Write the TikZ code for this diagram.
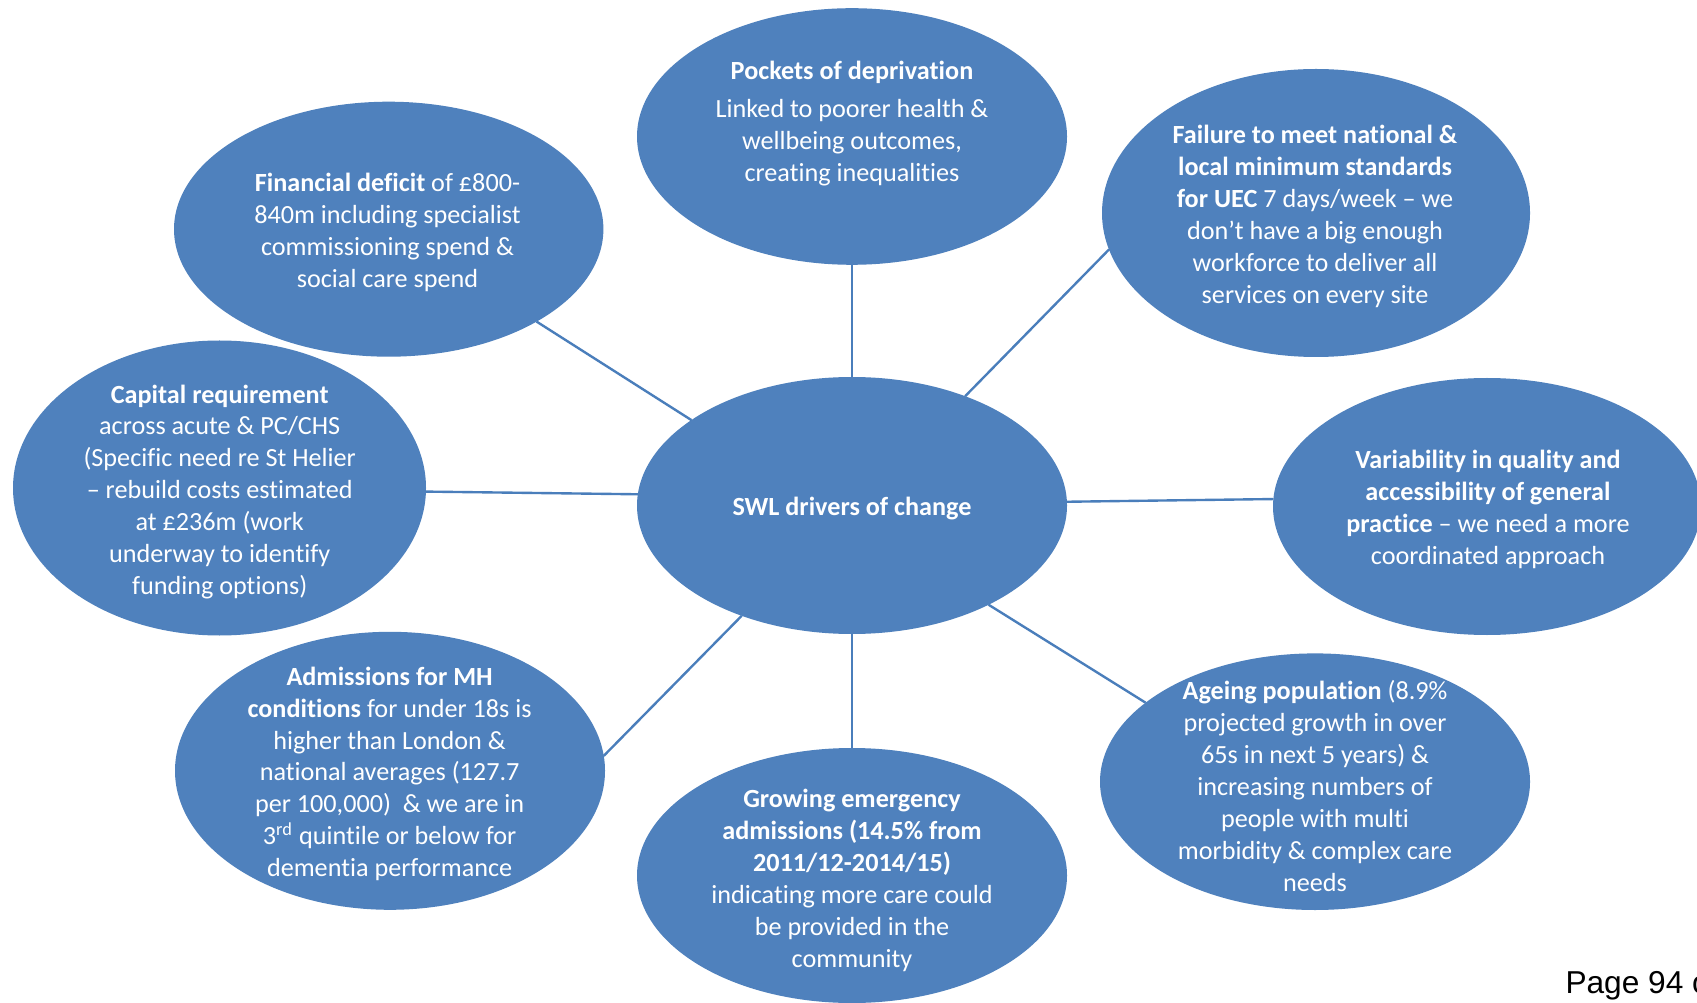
\documentclass[tikz,border=0pt]{standalone}
\usepackage{fontspec}
\setmainfont{Carlito}[Ligatures={NoCommon,NoContextual}]
\newfontfamily\pagefont{Liberation Sans}
\usetikzlibrary{shapes.geometric}
\definecolor{bubblue}{HTML}{4F81BD}
\definecolor{linkblue}{HTML}{4A7EBB}

\begin{document}
\begin{tikzpicture}[x=0.42pt,y=-0.42pt,
  bubble/.style 2 args={ellipse, fill=bubblue, draw=none, inner sep=0pt, outer sep=0pt,
    minimum width={#1*0.84pt}, minimum height={#2*0.84pt}},
  bubtext/.style={text=white, align=center, inner sep=0pt,
    font=\fontsize{11}{13.43}\selectfont},
  link/.style={draw=linkblue, line width=1pt}]
\clip (0,0) rectangle (1697,1003);
\fill[white] (0,0) rectangle (1697,1003);

% bubbles: centre, half-width, half-height
\node[bubble={215}{128.5}] (c)    at (852,505.5)   {};
\node[bubble={215}{128.3}] (pock) at (852,136.5)   {};
\node[bubble={214.7}{127.5}] (fin) at (388.7,229.2) {};
\node[bubble={214}{144}]   (fail) at (1316,213)    {};
\node[bubble={206.5}{147.5}] (cap) at (219.5,488)  {};
\node[bubble={214}{128.5}] (var)  at (1487,506.5)  {};
\node[bubble={215}{139}]   (adm)  at (390,770.8)   {};
\node[bubble={215}{127.5}] (grow) at (852,875.5)   {};
\node[bubble={215}{128.3}] (age)  at (1315,781.7)  {};

% spokes
\draw[link] (c.90)    -- (pock.270);
\draw[link] (c.152.5) -- (fin.-32.7);
\draw[link] (c.44.8)  -- (fail.190);
\draw[link] (c.177.2) -- (cap.-1.2);
\draw[link] (c.1.5)   -- (var.178.8);
\draw[link] (c.225.2) -- (adm.4.2);
\draw[link] (c.-36.5) -- (age.155.5);
\draw[link] (c.270)   -- (grow.90);

% texts
\node[bubtext] (tc) at (852,508.7) {\textbf{SWL drivers of change}};
\node[bubtext] (tpock) at (852,123.4) {\textbf{Pockets of deprivation}\\[2.5pt]Linked to poorer health \&\\wellbeing outcomes,\\creating inequalities};
\node[bubtext] (tfin) at (387.5,232.7) {\textbf{Financial deficit} of £800-\\840m including specialist\\commissioning spend \&\\social care spend};
\node[bubtext] (tfail) at (1315,216.5) {\textbf{Failure to meet national \&}\\\textbf{local minimum standards}\\\textbf{for UEC} 7 days/week – we\\don’t have a big enough\\workforce to deliver all\\services on every site};
\node[bubtext] (tcap) at (219.7,492) {\textbf{Capital requirement}\\across acute \& PC/CHS\\(Specific need re St Helier\\– rebuild costs estimated\\at £236m (work\\underway to identify\\funding options)};
\node[bubtext] (tvar) at (1488,509.8) {\textbf{Variability in quality and}\\\textbf{accessibility of general}\\\textbf{practice} – we need a more\\coordinated approach};
\node[bubtext] (tadm) at (389.6,773.9) {\textbf{Admissions for MH}\\\textbf{conditions} for under 18s is\\higher than London \&\\national averages (127.7\\per 100,000)~~\& we are in\\3\textsuperscript{rd} quintile or below for\\dementia performance};
\node[bubtext] (tgrow) at (852,880) {\textbf{Growing emergency}\\\textbf{admissions (14.5\% from}\\\textbf{2011/12-2014/15)}\\indicating more care could\\be provided in the\\community};
\node[bubtext] (tage) at (1315,786.4) {\textbf{Ageing population} (8.9\%\\projected growth in over\\65s in next 5 years) \&\\increasing numbers of\\people with multi\\morbidity \& complex care\\needs};

% page footer, running off the right edge
\node[anchor=base west, inner sep=0pt, font=\pagefont\fontsize{13.3}{15}\selectfont] (page) at (1565,993) {Page 94 of};
\end{tikzpicture}
\end{document}
